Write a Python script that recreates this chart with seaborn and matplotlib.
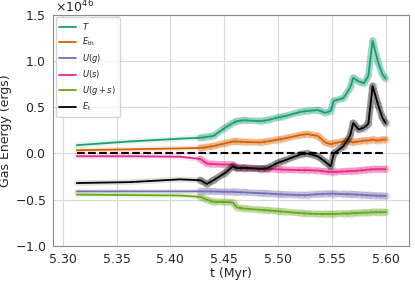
import numpy as np
import pandas as pd
import matplotlib
matplotlib.use("Agg")
import matplotlib.pyplot as plt
import matplotlib.ticker as mticker
import seaborn as sns

# --------------------------------------------------------------
# Data (units of 1e46 erg)
# --------------------------------------------------------------
t_myr = [5.313, 5.362, 5.409, 5.428, 5.434, 5.440, 5.451, 5.458, 5.462, 5.468,
         5.484, 5.490, 5.500, 5.505, 5.521, 5.527, 5.537, 5.544, 5.549, 5.552,
         5.561, 5.567, 5.570, 5.575, 5.580, 5.584, 5.588, 5.593, 5.597, 5.600]

kinetic = [0.09, 0.13, 0.16, 0.17, 0.18, 0.19, 0.28, 0.33, 0.35, 0.36,
           0.35, 0.36, 0.39, 0.40, 0.45, 0.46, 0.47, 0.44, 0.46, 0.57,
           0.60, 0.71, 0.82, 0.78, 0.76, 0.84, 1.22, 0.99, 0.86, 0.81]

thermal = [0.035, 0.045, 0.055, 0.06, 0.07, 0.08, 0.11, 0.13, 0.13, 0.125,
           0.12, 0.13, 0.15, 0.16, 0.20, 0.21, 0.19, 0.12, 0.10, 0.11,
           0.13, 0.13, 0.12, 0.13, 0.14, 0.14, 0.15, 0.14, 0.15, 0.15]

pot_gas = [-0.41, -0.41, -0.41, -0.41, -0.41, -0.41, -0.415, -0.415, -0.418, -0.42,
           -0.43, -0.433, -0.44, -0.443, -0.45, -0.45, -0.44, -0.437, -0.435, -0.435,
           -0.44, -0.442, -0.443, -0.445, -0.45, -0.452, -0.455, -0.457, -0.458, -0.46]

pot_stars = [-0.03, -0.03, -0.035, -0.06, -0.11, -0.115, -0.12, -0.12, -0.15, -0.16,
             -0.165, -0.17, -0.17, -0.175, -0.18, -0.18, -0.185, -0.195, -0.20, -0.20,
             -0.195, -0.19, -0.19, -0.185, -0.18, -0.175, -0.17, -0.17, -0.17, -0.17]

pot_total = [-0.445, -0.45, -0.455, -0.47, -0.50, -0.525, -0.525, -0.53, -0.585, -0.595,
             -0.61, -0.615, -0.625, -0.63, -0.645, -0.65, -0.655, -0.655, -0.655, -0.655,
             -0.65, -0.65, -0.645, -0.645, -0.64, -0.64, -0.635, -0.635, -0.635, -0.635]

total = [-0.32, -0.31, -0.28, -0.29, -0.33, -0.29, -0.21, -0.14, -0.16, -0.155,
         -0.165, -0.16, -0.10, -0.08, -0.01, 0.0, -0.03, -0.09, -0.14, 0.0,
         0.08, 0.19, 0.33, 0.26, 0.28, 0.32, 0.73, 0.53, 0.39, 0.33]

labels = [r"$T$", r"$E_{\rm th}$", r"$U(g)$", r"$U(s)$", r"$U(g+s)$", r"$E_{\rm t}$"]
colors = ["#1b9e77", "#d95f02", "#7570b3", "#e7298a", "#66a61e", "black"]
series = [kinetic, thermal, pot_gas, pot_stars, pot_total, total]

# --------------------------------------------------------------
# Plot
# --------------------------------------------------------------
sns.set_style("whitegrid")
plt.rcParams["font.family"] = ["DejaVu Sans"]

fig = plt.figure(figsize=(4.15, 2.81), dpi=100)
ax = fig.add_axes([0.128, 0.125, 0.858, 0.822])

t = np.array(t_myr)
late = t >= 5.428
for vals, lab, col in zip(series, labels, colors):
    y = np.array(vals) * 1e46
    # faint halo along the whole run, stronger band after 5.43 Myr
    ax.plot(t, y, color=col, lw=4, alpha=0.12, solid_capstyle="round")
    ax.plot(t[late], y[late], color=col, lw=5, alpha=0.35, solid_capstyle="round")
    ax.plot(t[late], y[late], "o", color=col, mfc="none", ms=5, alpha=0.12)
    sns.lineplot(x=t, y=y, color=col, lw=1.3, label=lab, ax=ax)

ax.hlines(0, t_myr[0], t_myr[-1], colors="black", linestyles="--", lw=1.5)

ax.set_xlim(5.291, 5.622)
ax.set_ylim(-1e46, 1.5e46)
ax.set_xticks([5.30, 5.35, 5.40, 5.45, 5.50, 5.55, 5.60])
ax.set_yticks(np.arange(-1.0, 1.51, 0.5) * 1e46)
fmt = mticker.ScalarFormatter(useMathText=True)
fmt.set_powerlimits((0, 0))
ax.yaxis.set_major_formatter(fmt)
ax.xaxis.set_major_formatter(mticker.FormatStrFormatter("%.2f"))
# draw the multiplier by hand so it fits in the thin top margin
ax.yaxis.get_offset_text().set_visible(False)
ax.text(0.006, 1.011, r"$\times10^{46}$", transform=ax.transAxes,
        fontsize=9, ha="left", va="baseline")

ax.set_xlabel("t (Myr)", fontsize=9, labelpad=1)
ax.set_ylabel("Gas Energy (ergs)", fontsize=9, labelpad=2)
ax.tick_params(labelsize=9, pad=1.5)
for sp in ax.spines.values():
    sp.set_color("0.55")
ax.grid(color="0.85", lw=0.8)

ax.legend(loc="upper left", fontsize=6, frameon=True, handlelength=2,
          labelspacing=0.45, borderaxespad=0.3, edgecolor="0.8")

fig.savefig("out.png", dpi=100)
